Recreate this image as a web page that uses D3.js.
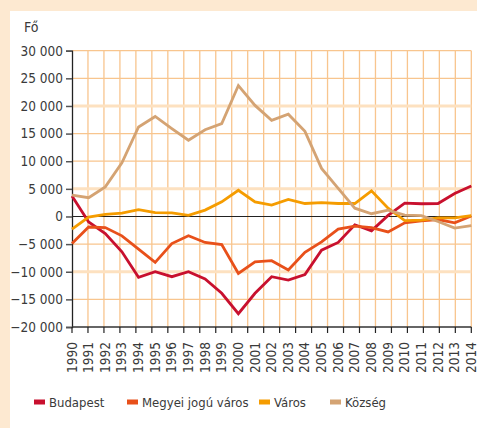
<!DOCTYPE html>
<html lang="hu">
<head>
<meta charset="UTF-8" />
<title>Fő</title>
<script src="https://cdn.jsdelivr.net/npm/d3@7"></script>
<style>
  body { margin: 0; background: #fde9d1; }
  #chart { display: block; }
  text { font-family: "Liberation Sans Narrow", "DejaVu Sans Condensed", "Roboto", sans-serif; fill: #3a3a3a; }
</style>
</head>
<body>
<svg id="chart" width="477" height="428"></svg>
<script>
  // data (fő, yearly)
  var years = d3.range(1990, 2015);
  var budapest = [3700, -1000, -3100, -6400, -11000, -10000, -10900, -10000, -11300, -13900, -17600, -13900, -10900, -11500, -10500, -6100, -4700, -1500, -2600, 200, 2400, 2300, 2350, 4150, 5500];
  var megyei   = [-4900, -1900, -2000, -3500, -5900, -8300, -4900, -3500, -4700, -5100, -10300, -8200, -8000, -9700, -6500, -4600, -2300, -1750, -2000, -2800, -1150, -800, -550, -1150, 100];
  var varos    = [-2300, -100, 400, 600, 1250, 700, 650, 200, 1150, 2650, 4750, 2650, 2050, 3100, 2350, 2500, 2350, 2350, 4650, 1500, -750, -650, -250, -250, 150];
  var kozseg   = [3850, 3400, 5350, 9700, 16200, 18100, 15900, 13800, 15700, 16800, 23700, 20100, 17400, 18500, 15400, 8700, 5100, 1500, 500, 1150, 250, 150, -900, -2100, -1650];
  var yTicks = [30000, 25000, 20000, 15000, 10000, 5000, 0, -5000, -10000, -15000, -20000];
  var series = [
    { name: "Budapest", values: budapest, color: "#c8102e" },
    { name: "Megyei jogú város", values: megyei, color: "#e8501a" },
    { name: "Város", values: varos, color: "#f59c00" },
    { name: "Község", values: kozseg, color: "#d4a373" }
  ];

  (function() {
    var svg = d3.select("#chart");
    var pLeft = 72, pRight = 471.3, pTop = 50.7, pBottom = 327;

    // white panel
    svg.append("rect").attr("x", 10).attr("y", 11).attr("width", 467).attr("height", 417).attr("fill", "#fff");

    var x = d3.scalePoint().domain(years).range([pLeft, pRight]);
    var y = d3.scaleLinear().domain([-20000, 30000]).range([pBottom, pTop]);
    // vertical grid has one more interval than the years
    var gx = d3.scaleLinear().domain([0, 25]).range([pLeft, pRight]);

    var fmt = function(v) {
      var s = d3.format(",")(Math.abs(v)).replace(/,/g, " ");
      return (v < 0 ? "\u2212" : "") + s;
    };

    // grid
    svg.append("g").selectAll("line").data(d3.range(1, 26)).join("line")
      .attr("x1", d => gx(d)).attr("x2", d => gx(d))
      .attr("y1", pTop).attr("y2", pBottom)
      .attr("stroke", "#f8c58e").attr("stroke-width", 1.3);

    var heavy = [20000, 5000, -10000];
    svg.append("g").selectAll("line").data(yTicks.filter(d => d !== 0 && d !== -20000)).join("line")
      .attr("x1", pLeft).attr("x2", pRight)
      .attr("y1", d => y(d)).attr("y2", d => y(d))
      .attr("stroke", d => heavy.indexOf(d) >= 0 ? "#fde1c0" : "#f8c58e")
      .attr("stroke-width", d => heavy.indexOf(d) >= 0 ? 3 : 1.3);

    // zero line
    svg.append("line").attr("x1", pLeft).attr("x2", pRight).attr("y1", y(0)).attr("y2", y(0))
      .attr("stroke", "#222").attr("stroke-width", 1.2);

    // y axis
    var yAxis = d3.axisLeft(y).tickValues(yTicks).tickFormat(fmt).tickSize(6).tickPadding(3);
    var ya = svg.append("g").attr("transform", "translate(" + pLeft + ",0)").call(yAxis);
    ya.attr("font-family", null).attr("font-size", null);
    ya.select(".domain").attr("stroke", "#222").attr("stroke-width", 1.3);
    ya.selectAll(".tick line").attr("stroke", "#555").attr("stroke-width", 1.5);
    ya.selectAll(".tick text").attr("font-size", 13.5).attr("fill", "#3a3a3a");

    // x axis
    svg.append("line").attr("x1", pLeft).attr("x2", pRight).attr("y1", pBottom).attr("y2", pBottom)
      .attr("stroke", "#333").attr("stroke-width", 1.3);
    svg.append("g").selectAll("line").data(d3.range(0, 26)).join("line")
      .attr("x1", d => gx(d)).attr("x2", d => gx(d))
      .attr("y1", pBottom).attr("y2", pBottom + 6)
      .attr("stroke", "#222").attr("stroke-width", 1.2);
    svg.append("g").selectAll("text").data(years).join("text")
      .attr("transform", d => "translate(" + (x(d) + 4.5) + "," + (pBottom + 15) + ") rotate(-90)")
      .attr("text-anchor", "end")
      .attr("font-size", 13.5)
      .text(d => d);

    svg.append("text").attr("x", 24).attr("y", 32).attr("font-size", 14).text("Fő");

    // lines
    var line = d3.line().x((d, i) => x(years[i])).y(d => y(d));
    svg.append("g").selectAll("path").data(series).join("path")
      .attr("d", d => line(d.values))
      .attr("fill", "none")
      .attr("stroke", d => d.color)
      .attr("stroke-width", 2.8)
      .attr("stroke-linejoin", "miter");

    // legend
    var legX = [34, 127, 259, 330];
    var leg = svg.append("g").selectAll("g").data(series).join("g")
      .attr("transform", (d, i) => "translate(" + legX[i] + ",402)");
    leg.append("rect").attr("x", 0).attr("y", -2.5).attr("width", 11).attr("height", 5).attr("fill", d => d.color);
    leg.append("text").attr("x", 15).attr("y", 5).attr("font-size", 13).text(d => d.name);
  })();
</script>
</body>
</html>
